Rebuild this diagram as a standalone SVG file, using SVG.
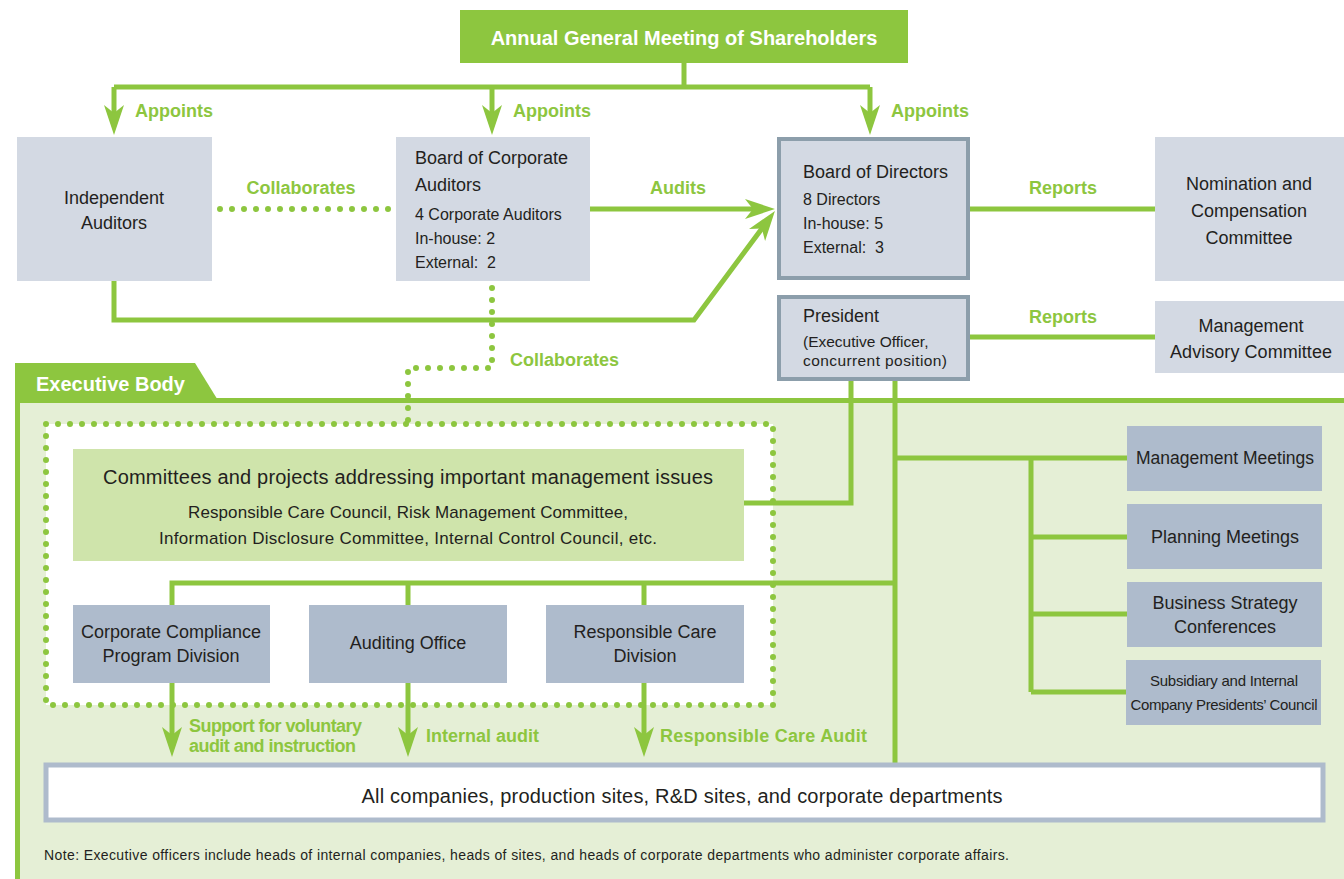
<svg xmlns="http://www.w3.org/2000/svg" width="1344" height="879" viewBox="0 0 1344 879">
<style>
text{font-family:"Liberation Sans",Arial,sans-serif;fill:#231f20}
.g{fill:#8dc63f;font-weight:bold;font-size:18px}
.w{fill:#fff;font-weight:bold;font-size:20px}
.c{text-anchor:middle}
.t18{font-size:18px}
.t16{font-size:16px}
.box{fill:#d3d9e3}
.dbox{fill:#aebbcc}
.bbox{fill:#d3d9e3;stroke:#8c9eab;stroke-width:4}
.ln{fill:none;stroke:#8dc63f;stroke-width:5}
.dot{fill:none;stroke:#8dc63f;stroke-width:6;stroke-linecap:round;stroke-dasharray:0 12}
</style>
<defs>
<marker id="ah" markerUnits="userSpaceOnUse" markerWidth="32" markerHeight="24" viewBox="0 -12 32 24" refX="15" refY="0" orient="auto">
<path d="M30,0 L0,-10 L8,0 L0,10 Z" fill="#8dc63f"/>
</marker>
</defs>

<g id="executive-body">
<rect x="15" y="400" width="1329" height="479" fill="#e5efd6"/>
<polygon points="15,363 195,363 219,402 15,402" fill="#8dc63f"/>
<rect x="15" y="363" width="5" height="516" fill="#8dc63f"/>
<rect x="15" y="398" width="1329" height="5" fill="#8dc63f"/>
<text class="w" x="36" y="391">Executive Body</text>
</g>

<g id="dotted-group">
<rect x="46" y="424" width="727" height="281" fill="#fff"/>
<rect class="dot" x="46" y="424" width="727" height="281"/>
</g>

<g id="connectors">
<path class="ln" d="M684,63 V87 M114,87 H870"/>
<path class="ln" d="M114,87 V120" marker-end="url(#ah)"/>
<path class="ln" d="M492,87 V120" marker-end="url(#ah)"/>
<path class="ln" d="M870,87 V120" marker-end="url(#ah)"/>
<path class="dot" d="M220,209 H392"/>
<path class="ln" d="M590,209 H760" marker-end="url(#ah)"/>
<path class="ln" d="M114,281 V320 H694 L766,223" marker-end="url(#ah)"/>
<path class="ln" d="M970,209 H1155"/>
<path class="ln" d="M970,337 H1155"/>
<path class="dot" d="M492,288 V368 H408 V424"/>
<path class="ln" d="M851,380 V503 H744"/>
<path class="ln" d="M895,380 V763"/>
<path class="ln" d="M895,458 H1127 M1031,458 V692 M1031,537 H1127 M1031,614 H1127 M1031,692 H1127"/>
<path class="ln" d="M895,583 H172 V605 M408,583 V605 M644,583 V605"/>
<path class="ln" d="M172,683 V742" marker-end="url(#ah)"/>
<path class="ln" d="M408,683 V742" marker-end="url(#ah)"/>
<path class="ln" d="M644,683 V742" marker-end="url(#ah)"/>
<text class="g" x="135" y="117">Appoints</text>
<text class="g" x="513" y="117">Appoints</text>
<text class="g" x="891" y="117">Appoints</text>
<text class="g c" x="301" y="194">Collaborates</text>
<text class="g" x="650" y="194">Audits</text>
<text class="g" x="1029" y="194">Reports</text>
<text class="g" x="1029" y="323">Reports</text>
<text class="g" x="510" y="366">Collaborates</text>
<text class="g" x="189" y="732" textLength="173">Support for voluntary</text>
<text class="g" x="189" y="752" textLength="167">audit and instruction</text>
<text class="g" x="426" y="742">Internal audit</text>
<text class="g" x="660" y="742" textLength="207">Responsible Care Audit</text>
</g>

<g id="agm">
<rect x="460" y="10" width="448" height="53" fill="#8dc63f"/>
<text class="w c" x="684" y="45">Annual General Meeting of Shareholders</text>
</g>

<g id="independent-auditors">
<rect class="box" x="17" y="137" width="195" height="144"/>
<text class="c t18" x="114" y="204">Independent</text>
<text class="c t18" x="114" y="229">Auditors</text>
</g>

<g id="board-corporate-auditors">
<rect class="box" x="396" y="137" width="194" height="144"/>
<text class="t18" x="415" y="164">Board of Corporate</text>
<text class="t18" x="415" y="191">Auditors</text>
<text class="t16" x="415" y="220">4 Corporate Auditors</text>
<text class="t16" x="415" y="244">In-house: 2</text>
<text class="t16" x="415" y="268" xml:space="preserve">External:  2</text>
</g>

<g id="board-directors">
<rect class="bbox" x="779" y="139" width="189" height="139"/>
<text class="t18" x="803" y="178">Board of Directors</text>
<text class="t16" x="803" y="205">8 Directors</text>
<text class="t16" x="803" y="229">In-house: 5</text>
<text class="t16" x="803" y="253" xml:space="preserve">External:  3</text>
</g>

<g id="nomination">
<rect class="box" x="1155" y="137" width="189" height="144"/>
<text class="c t18" x="1249" y="190">Nomination and</text>
<text class="c t18" x="1249" y="217">Compensation</text>
<text class="c t18" x="1249" y="244">Committee</text>
</g>

<g id="president">
<rect class="bbox" x="779" y="297" width="189" height="82"/>
<text class="t18" x="803" y="322">President</text>
<text x="803" y="347" font-size="15.5">(Executive Officer,</text>
<text x="803" y="366" font-size="15.5" textLength="144">concurrent position)</text>
</g>

<g id="mgmt-advisory">
<rect class="box" x="1155" y="301" width="189" height="72"/>
<text class="c t18" x="1251" y="332">Management</text>
<text class="c t18" x="1251" y="358" textLength="162">Advisory Committee</text>
</g>

<g id="committees">
<rect x="73" y="449" width="671" height="112" fill="#cfe4ab"/>
<text class="c" x="408" y="484" font-size="20" textLength="610">Committees and projects addressing important management issues</text>
<text class="c" x="408" y="518" font-size="17" textLength="440">Responsible Care Council, Risk Management Committee,</text>
<text class="c" x="408" y="544" font-size="17" textLength="498">Information Disclosure Committee, Internal Control Council, etc.</text>
</g>

<g id="compliance">
<rect class="dbox" x="73" y="605" width="197" height="78"/>
<text class="c t18" x="171" y="638">Corporate Compliance</text>
<text class="c t18" x="171" y="662">Program Division</text>
</g>

<g id="auditing-office">
<rect class="dbox" x="309" y="605" width="198" height="78"/>
<text class="c t18" x="408" y="649">Auditing Office</text>
</g>

<g id="rc-division">
<rect class="dbox" x="546" y="605" width="198" height="78"/>
<text class="c t18" x="645" y="638">Responsible Care</text>
<text class="c t18" x="645" y="662">Division</text>
</g>

<g id="mgmt-meetings">
<rect class="dbox" x="1127" y="426" width="195" height="65"/>
<text class="c" x="1225" y="464" font-size="17.5">Management Meetings</text>
</g>

<g id="planning-meetings">
<rect class="dbox" x="1127" y="504" width="195" height="65"/>
<text class="c t18" x="1225" y="543">Planning Meetings</text>
</g>

<g id="business-strategy">
<rect class="dbox" x="1127" y="582" width="195" height="65"/>
<text class="c t18" x="1225" y="609">Business Strategy</text>
<text class="c t18" x="1225" y="633">Conferences</text>
</g>

<g id="subsidiary-council">
<rect class="dbox" x="1126" y="660" width="195" height="65"/>
<text class="c" x="1224" y="686" font-size="15" textLength="148">Subsidiary and Internal</text>
<text class="c" x="1224" y="710" font-size="15" textLength="187">Company Presidents’ Council</text>
</g>

<g id="all-companies">
<rect x="46" y="765" width="1277" height="55" fill="#fff" stroke="#aebbcc" stroke-width="5"/>
<text class="c" x="682" y="803" font-size="20" textLength="641">All companies, production sites, R&amp;D sites, and corporate departments</text>
</g>

<g id="note">
<text x="44" y="860" font-size="14" textLength="965">Note: Executive officers include heads of internal companies, heads of sites, and heads of corporate departments who administer corporate affairs.</text>
</g>
</svg>
